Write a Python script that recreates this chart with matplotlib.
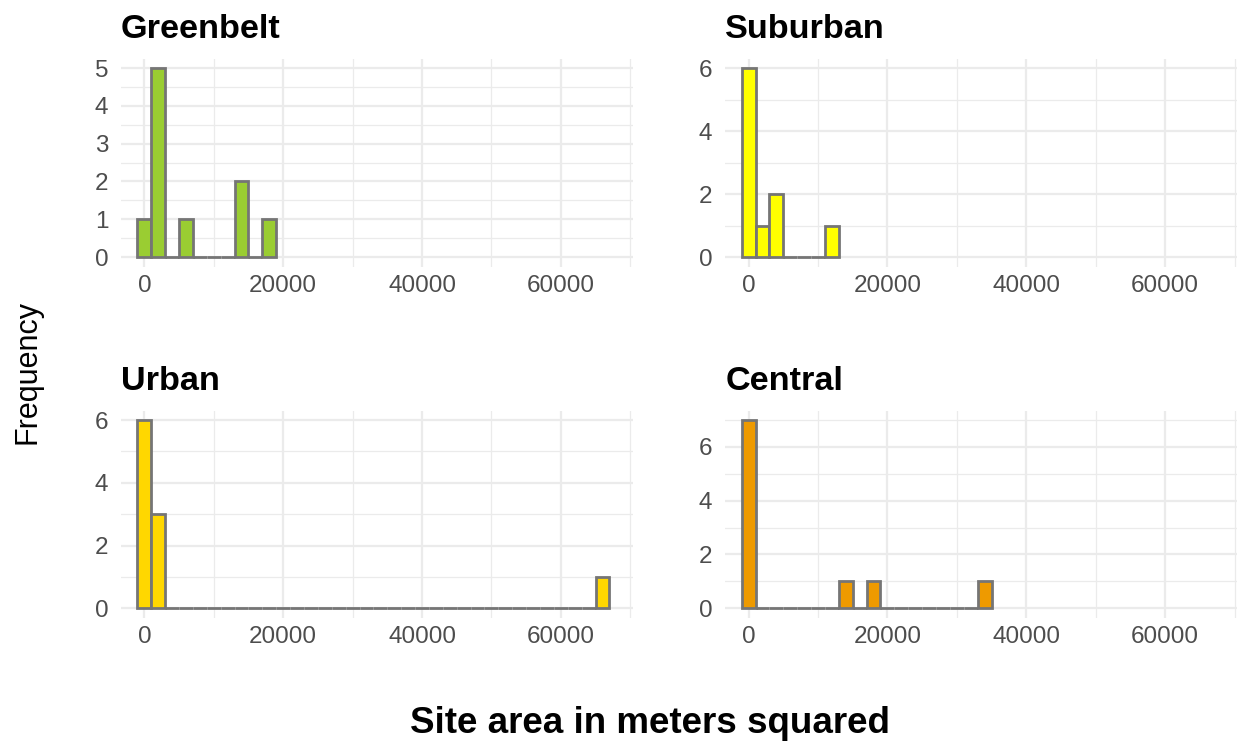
import matplotlib.pyplot as plt
import numpy as np
from matplotlib.ticker import MultipleLocator, AutoMinorLocator

plt.rcParams['font.family'] = ['Liberation Sans', 'DejaVu Sans']

# histogram counts per 2000 m2 bin, first bin centred on 0
bin_width = 2000
greenbelt = [1, 5, 0, 1, 0, 0, 0, 2, 0, 1]
suburban = [6, 1, 2, 0, 0, 0, 1]
urban = [6, 3, 0, 0, 0, 0, 0, 0, 0, 0, 0, 0, 0, 0, 0, 0, 0,
         0, 0, 0, 0, 0, 0, 0, 0, 0, 0, 0, 0, 0, 0, 0, 0, 1]
central = [7, 0, 0, 0, 0, 0, 0, 1, 0, 1, 0, 0, 0, 0, 0, 0, 0, 1]

panels = ['Greenbelt', 'Suburban', 'Urban', 'Central']
counts = [greenbelt, suburban, urban, central]
fills = ['#9ACD32', '#FFFF00', '#FFD700', '#EE9A00']
y_steps = [1, 2, 2, 2]

fig = plt.figure(figsize=(12.41, 7.47), dpi=100)

# panel boxes in figure fractions
boxes = [
    [0.0973, 0.6432, 0.4128, 0.2783],
    [0.5842, 0.6432, 0.4128, 0.2783],
    [0.0973, 0.1731, 0.4128, 0.2772],
    [0.5842, 0.1731, 0.4128, 0.2772],
]
title_pos = [(0.0975, 0.949), (0.5845, 0.949), (0.0975, 0.478), (0.5845, 0.478)]

for name, c, col, step, box, tp in zip(panels, counts, fills, y_steps, boxes, title_pos):
    ax = fig.add_axes(box)
    c = np.array(c)
    centers = np.arange(len(c)) * bin_width
    ax.bar(centers, c, width=bin_width, color=col, edgecolor='#757575',
           linewidth=2.0, zorder=3)

    top = c.max()
    ax.set_ylim(-0.05 * top, top * 1.05)
    ax.set_xlim(-3400, 70400)
    ax.xaxis.set_major_locator(MultipleLocator(20000))
    ax.xaxis.set_minor_locator(MultipleLocator(10000))
    ax.yaxis.set_major_locator(MultipleLocator(step))
    ax.yaxis.set_minor_locator(AutoMinorLocator(2))

    ax.grid(which='major', color='#EBEBEB', linewidth=1.6, zorder=0)
    ax.grid(which='minor', color='#EBEBEB', linewidth=0.9, zorder=0)
    ax.set_axisbelow(True)
    for s in ax.spines.values():
        s.set_visible(False)
    ax.tick_params(which='both', length=0, labelsize=17.5, colors='#4D4D4D')
    ax.tick_params(axis='y', pad=9)
    ax.tick_params(axis='x', pad=6)

    fig.text(tp[0], tp[1], name, fontsize=24.7, fontweight='bold',
             ha='left', va='baseline')

fig.text(0.022, 0.502, 'Frequency', rotation=90, fontsize=22,
         ha='center', va='center')
fig.text(0.524, 0.031, 'Site area in meters squared', fontsize=26.5,
         fontweight='bold', ha='center', va='center')

fig.savefig('out.png', dpi=100, facecolor='white')
